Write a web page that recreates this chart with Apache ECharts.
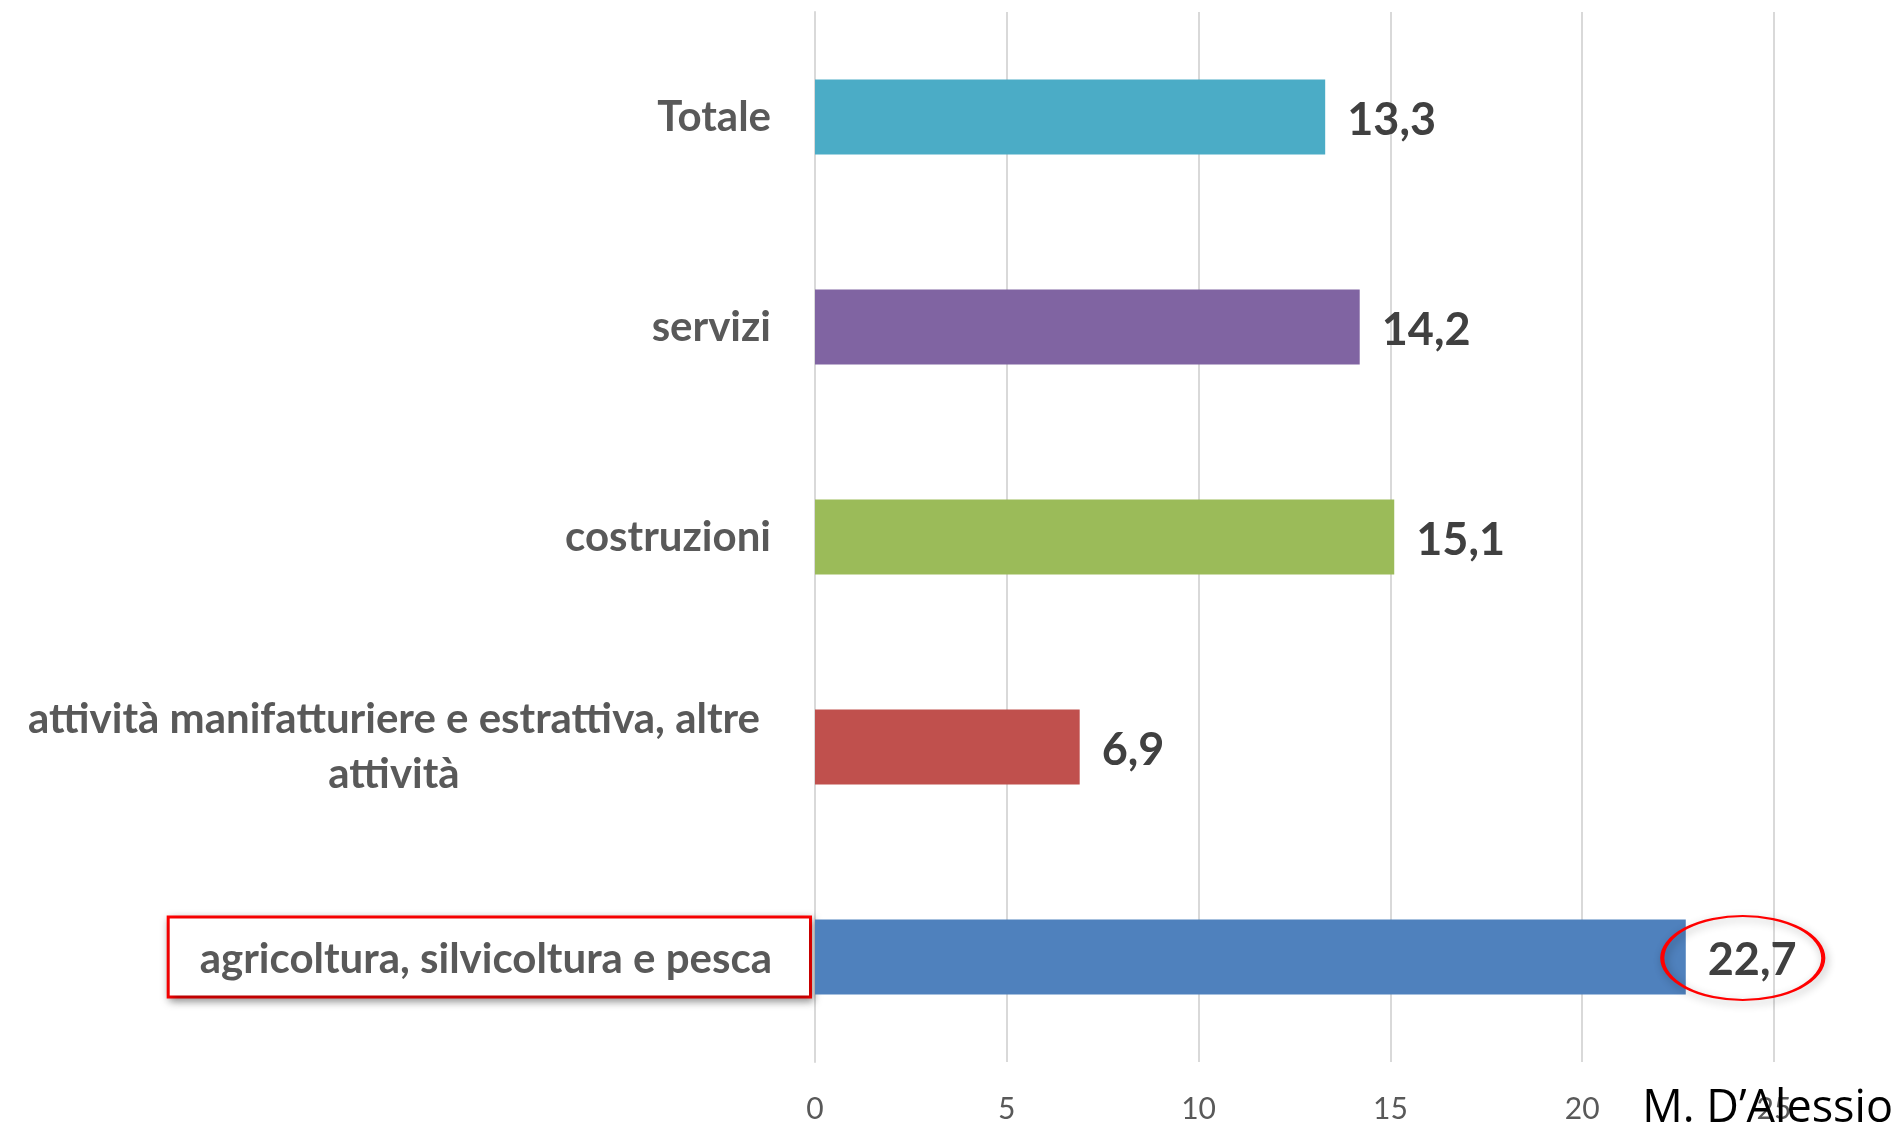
<!DOCTYPE html>
<html>
<head>
<meta charset="utf-8">
<script src="https://cdn.jsdelivr.net/npm/echarts@6/dist/echarts.min.js"></script>
<style>
html,body{margin:0;padding:0;background:#fff;}
#c{width:1899px;height:1129px;}
</style>
</head>
<body>
<div id="c"></div>
<script>
var categories = ['agricoltura, silvicoltura e pesca', 'attività manifatturiere e estrattiva, altre\nattività', 'costruzioni', 'servizi', 'Totale'];
var values = [22.7, 6.9, 15.1, 14.2, 13.3];
var colors = ['#4F81BD', '#C0504D', '#9BBB59', '#8064A2', '#4BACC6'];
var xTicks = { min: 0, max: 25, interval: 5 };
var highlightIndex = 0;
var watermark = 'M. D\u2019Alessio';

var chart = echarts.init(document.getElementById('c'));
var catFont = { fontFamily: 'Lato', fontWeight: 'bold', fontSize: 42, color: '#595959' };
chart.setOption({
  animation: false,
  backgroundColor: '#ffffff',
  grid: { left: 815, right: 125, top: 12, bottom: 67, containLabel: false },
  xAxis: {
    type: 'value', min: xTicks.min, max: xTicks.max, interval: xTicks.interval,
    axisLine: { show: false }, axisTick: { show: false },
    splitLine: { show: true, lineStyle: { color: '#d9d9d9', width: 2 } },
    axisLabel: { margin: 32, fontFamily: 'Lato', fontSize: 30, color: '#595959' }
  },
  yAxis: {
    type: 'category', data: categories,
    axisLine: { show: true, lineStyle: { color: '#d9d9d9', width: 2 } },
    axisTick: { show: false },
    axisLabel: {
      margin: 6,
      formatter: function (v, i) {
        if (i === highlightIndex) return '{box|' + v + '}';
        if (v.indexOf('\n') >= 0) {
          return v.split('\n').map(function (l) { return '{w|' + l + '}'; }).join('\n');
        }
        return '{n|' + v + '}';
      },
      rich: {
        n: Object.assign({ padding: [0, 38, 0, 0] }, catFont),
        w: Object.assign({ padding: [0, 49, 0, 0], align: 'center', lineHeight: 55 }, catFont),
        box: Object.assign({
          padding: [20, 37, 15, 30], borderColor: '#FF0000', borderWidth: 3,
          backgroundColor: '#ffffff',
          shadowBlur: 8, shadowColor: 'rgba(0,0,0,0.35)', shadowOffsetX: 2, shadowOffsetY: 3
        }, catFont)
      }
    }
  },
  series: [{
    type: 'bar',
    data: values.map(function (v, i) { return { value: v, itemStyle: { color: colors[i] } }; }),
    barWidth: 75,
    label: {
      show: true, position: 'right', distance: 22, offset: [0, 3],
      fontFamily: 'Lato', fontWeight: 'bold', fontSize: 45, color: '#404040',
      formatter: function (p) { return String(p.value).replace('.', ','); }
    },
    markPoint: {
      silent: true,
      data: [{
        coord: [values[highlightIndex], highlightIndex],
        symbol: 'circle', symbolSize: [161, 84], symbolOffset: [57, 1],
        itemStyle: { color: 'rgba(0,0,0,0)', borderColor: '#FF0000', borderWidth: 3,
          shadowBlur: 8, shadowColor: 'rgba(0,0,0,0.3)', shadowOffsetX: 2, shadowOffsetY: 3 },
        label: { show: false }
      }]
    }
  }],
  graphic: [{
    type: 'text', right: 6, top: 1087, z: 100,
    style: { text: watermark, fontFamily: 'Open Sans', fontSize: 45, fill: '#000000' }
  }]
});
</script>
</body>
</html>
